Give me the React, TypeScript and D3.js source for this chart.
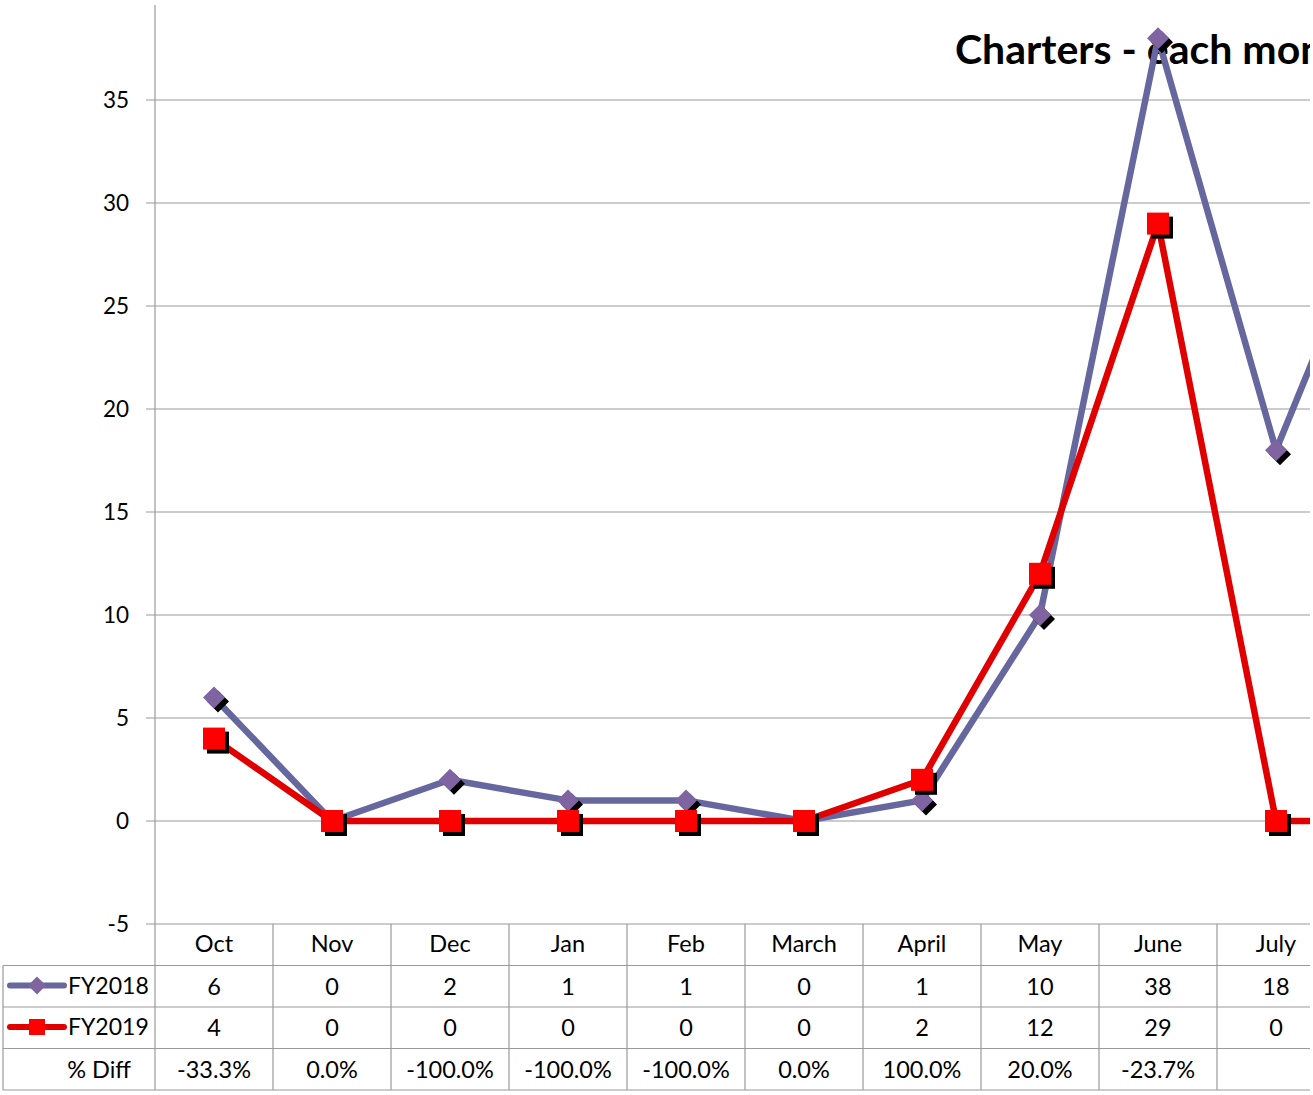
import * as d3 from 'd3';

// Chart data
const months = ['Oct', 'Nov', 'Dec', 'Jan', 'Feb', 'March', 'April', 'May', 'June', 'July', 'Aug'];
const fy2018 = [6, 0, 2, 1, 1, 0, 1, 10, 38, 18, 32];
const fy2019 = [4, 0, 0, 0, 0, 0, 2, 12, 29, 0, 0];
const pctDiff = ['-33.3%', '0.0%', '-100.0%', '-100.0%', '-100.0%', '0.0%', '100.0%', '20.0%', '-23.7%', '', ''];
const yTicks = [-5, 0, 5, 10, 15, 20, 25, 30, 35];

const W = 1313;
const H = 1095;
const FONT = 'Lato, "Open Sans", sans-serif';

export default function App() {
  const plotLeft = 155;
  const colW = 118;
  const clipRight = 1310;

  const x = d3.scaleBand<string>()
    .domain(months)
    .range([plotLeft, plotLeft + colW * months.length]);
  const cx = (m: string) => (x(m) as number) + x.bandwidth() / 2;

  const y = d3.scaleLinear().domain([-5, 35]).range([924, 100]);

  const rowTop = y(-5);
  const rowH = 41.5;
  const rows = [rowTop, rowTop + rowH, rowTop + rowH * 2, rowTop + rowH * 3, rowTop + rowH * 4];

  const line = d3.line<number>()
    .x((_, i) => cx(months[i]))
    .y(d => y(d));

  const c18 = '#67679f';
  const m18 = '#8064a2';
  const c19 = '#e00000';
  const m19 = '#ff0000';

  const diamond = (px: number, py: number, r: number) =>
    `M${px},${py - r}L${px + r},${py}L${px},${py + r}L${px - r},${py}Z`;

  const gridColor = '#9a9a9a';
  // only the table columns whose centre falls inside the visible area carry text
  const visibleMonths = months.filter(m => cx(m) < clipRight);

  return (
    <svg
      width={W}
      height={H}
      style={{ position: 'absolute', left: 0, top: 0, background: '#fff' }}
      fontFamily={FONT}
    >
      <defs>
        <clipPath id="clip">
          <rect x={0} y={0} width={clipRight} height={H} />
        </clipPath>
      </defs>
      <g clipPath="url(#clip)">
        {/* gridlines + tick marks */}
        {yTicks.map(t => (
          <g key={t}>
            <line x1={plotLeft - 9} x2={W + 200} y1={y(t)} y2={y(t)} stroke={gridColor} strokeWidth={1.2} />
            <text x={129} y={y(t) + 8} textAnchor="end" fontSize={22.5} fill="#000">{t}</text>
          </g>
        ))}
        {/* value axis */}
        <line x1={plotLeft} x2={plotLeft} y1={5} y2={rows[4]} stroke={gridColor} strokeWidth={1.2} />

        {/* title */}
        <text x={955} y={64} fontSize={41} fontWeight={700} fill="#000">Charters - each month</text>

        {/* data table grid */}
        {rows.slice(1).map((r, i) => (
          <line key={i} x1={3} x2={W + 200} y1={r} y2={r} stroke={gridColor} strokeWidth={1.2} />
        ))}
        <line x1={3} x2={3} y1={rows[1]} y2={rows[4]} stroke={gridColor} strokeWidth={1.2} />
        {months.map(m => (
          <line key={m} x1={(x(m) as number) + colW} x2={(x(m) as number) + colW} y1={rows[0]} y2={rows[4]} stroke={gridColor} strokeWidth={1.2} />
        ))}

        {/* table text */}
        {visibleMonths.map((m, i) => (
          <g key={m} fontSize={23.5} textAnchor="middle" fill="#000">
            <text x={cx(m)} y={rows[0] + 28}>{m}</text>
            <text x={cx(m)} y={rows[1] + 29}>{fy2018[i]}</text>
            <text x={cx(m)} y={rows[2] + 29}>{fy2019[i]}</text>
            <text x={cx(m)} y={rows[3] + 29}>{pctDiff[i]}</text>
          </g>
        ))}

        {/* legend keys */}
        <g>
          <line x1={10} x2={64} y1={rows[1] + 20} y2={rows[1] + 20} stroke={c18} strokeWidth={6} strokeLinecap="round" />
          <path d={diamond(37, rows[1] + 20, 9)} fill={m18} />
          <text x={68} y={rows[1] + 28} fontSize={23}>FY2018</text>
          <line x1={10} x2={64} y1={rows[2] + 20} y2={rows[2] + 20} stroke={c19} strokeWidth={6} strokeLinecap="round" />
          <rect x={29} y={rows[2] + 12} width={16} height={16} fill={m19} />
          <text x={68} y={rows[2] + 28} fontSize={23}>FY2019</text>
          <text x={131} y={rows[3] + 29} fontSize={23.5} textAnchor="end">% Diff</text>
        </g>

        {/* FY2018 series */}
        <path d={line(fy2018) as string} fill="none" stroke={c18} strokeWidth={6.5} strokeLinejoin="round" />
        {fy2018.map((v, i) => (
          <g key={i}>
            <path d={diamond(cx(months[i]) + 4, y(v) + 4, 11)} fill="#000" />
            <path d={diamond(cx(months[i]), y(v), 11)} fill={m18} />
          </g>
        ))}

        {/* FY2019 series */}
        <path d={line(fy2019) as string} fill="none" stroke={c19} strokeWidth={6.5} strokeLinejoin="round" />
        {fy2019.map((v, i) => (
          <g key={i}>
            <rect x={cx(months[i]) - 11 + 4} y={y(v) - 11 + 4} width={22} height={22} fill="#000" />
            <rect x={cx(months[i]) - 11} y={y(v) - 11} width={22} height={22} fill={m19} />
          </g>
        ))}
      </g>
    </svg>
  );
}
